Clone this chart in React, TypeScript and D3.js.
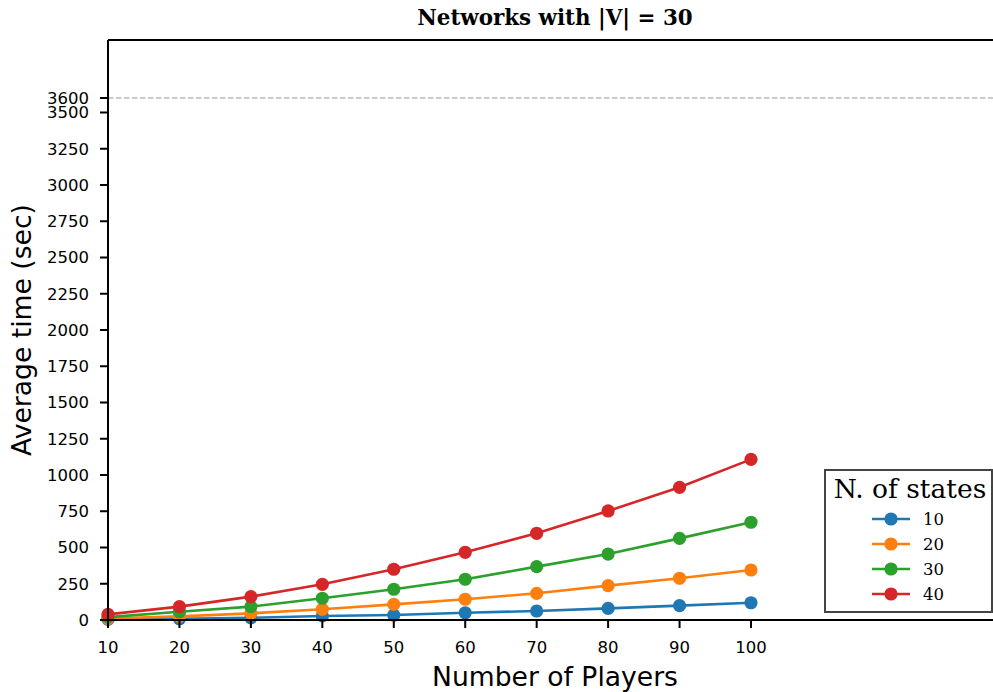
import React from "react";
import * as d3 from "d3";

// Number of players on the x axis
const players = [10, 20, 30, 40, 50, 60, 70, 80, 90, 100];

// Average solve time (seconds) for each number of states
const states10 = [4, 8, 15, 28, 34, 50, 62, 80, 99, 119];
const states20 = [10, 25, 46, 74, 108, 143, 184, 237, 288, 345];
const states30 = [20, 57, 92, 150, 212, 281, 368, 455, 563, 674];
const states40 = [39, 92, 161, 246, 350, 467, 598, 752, 915, 1108];

const seriesNames = ["10", "20", "30", "40"];
const seriesColors = ["#1f77b4", "#ff7f0e", "#2ca02c", "#d62728"];

const yTicks = [0, 250, 500, 750, 1000, 1250, 1500, 1750, 2000, 2250, 2500, 2750, 3000, 3250, 3500, 3600];
const timeLimit = 3600;

const W = 993;
const H = 692;
const left = 108;
const top = 40;
const bottom = 620;
const right = 1002;

export default function App() {
  const x = d3.scaleLinear().domain([10, 100]).range([left, 751]);
  const y = d3.scaleLinear().domain([0, 4000]).range([bottom, top]);
  const all = [states10, states20, states30, states40];
  const line = d3
    .line<number>()
    .x((_, i) => x(players[i]))
    .y((d) => y(d));

  const sans = "'DejaVu Sans', sans-serif";
  const serif = "'DejaVu Serif', serif";

  const legX = 825;
  const legY = 470;
  const markerR = 6.6;
  const lineW = 2.6;

  return (
    <svg width={W} height={H} style={{ position: "absolute", left: 0, top: 0, background: "#fff" }}>
      <text x={(left + right) / 2} y={25} textAnchor="middle" fontFamily={serif} fontWeight="bold" fontSize={21.4}>
        Networks with |V| = 30
      </text>

      {/* time limit reference */}
      <line x1={left} x2={right} y1={y(timeLimit)} y2={y(timeLimit)} stroke="#bbbbbb" strokeWidth={1.5} strokeDasharray="5.5,2.5" />

      {/* series */}
      {all.map((s, k) => (
        <g key={k}>
          <path d={line(s) || ""} fill="none" stroke={seriesColors[k]} strokeWidth={lineW} />
          {s.map((v, i) => (
            <circle key={i} cx={x(players[i])} cy={y(v)} r={markerR} fill={seriesColors[k]} />
          ))}
        </g>
      ))}

      {/* spines */}
      <line x1={left} x2={right} y1={top} y2={top} stroke="#000" strokeWidth={2} />
      <line x1={left} x2={right} y1={bottom} y2={bottom} stroke="#000" strokeWidth={2} />
      <line x1={left} x2={left} y1={top} y2={bottom + 1} stroke="#000" strokeWidth={2} />

      {/* y axis */}
      {yTicks.map((t) => (
        <g key={t}>
          <line x1={left - 8} x2={left} y1={y(t)} y2={y(t)} stroke="#000" strokeWidth={2} />
          <text x={left - 19} y={y(t)} dy="0.36em" textAnchor="end" fontFamily={sans} fontSize={16.5}>
            {t}
          </text>
        </g>
      ))}
      <text
        transform={`translate(31,${(top + bottom) / 2}) rotate(-90)`}
        textAnchor="middle"
        fontFamily={sans}
        fontSize={26.6}
      >
        Average time (sec)
      </text>

      {/* x axis */}
      {players.map((p) => (
        <g key={p}>
          <line x1={x(p)} x2={x(p)} y1={bottom} y2={bottom + 8} stroke="#000" strokeWidth={2} />
          <text x={x(p)} y={bottom + 33} textAnchor="middle" fontFamily={sans} fontSize={16.5}>
            {p}
          </text>
        </g>
      ))}
      <text x={(left + right) / 2} y={686} textAnchor="middle" fontFamily={sans} fontSize={26.6}>
        Number of Players
      </text>

      {/* legend */}
      <rect x={legX} y={legY} width={167} height={142} fill="#fff" stroke="#444" strokeWidth={2} />
      <text x={legX + 85} y={legY + 28} textAnchor="middle" fontFamily={serif} fontSize={26.5}>
        N. of states
      </text>
      {seriesNames.map((n, k) => {
        const cy = legY + 49 + k * 25;
        return (
          <g key={n}>
            <line x1={legX + 47} x2={legX + 85} y1={cy} y2={cy} stroke={seriesColors[k]} strokeWidth={lineW} />
            <circle cx={legX + 66} cy={cy} r={markerR} fill={seriesColors[k]} />
            <text x={legX + 98} y={cy} dy="0.36em" fontFamily={serif} fontSize={16.5}>
              {n}
            </text>
          </g>
        );
      })}
    </svg>
  );
}
